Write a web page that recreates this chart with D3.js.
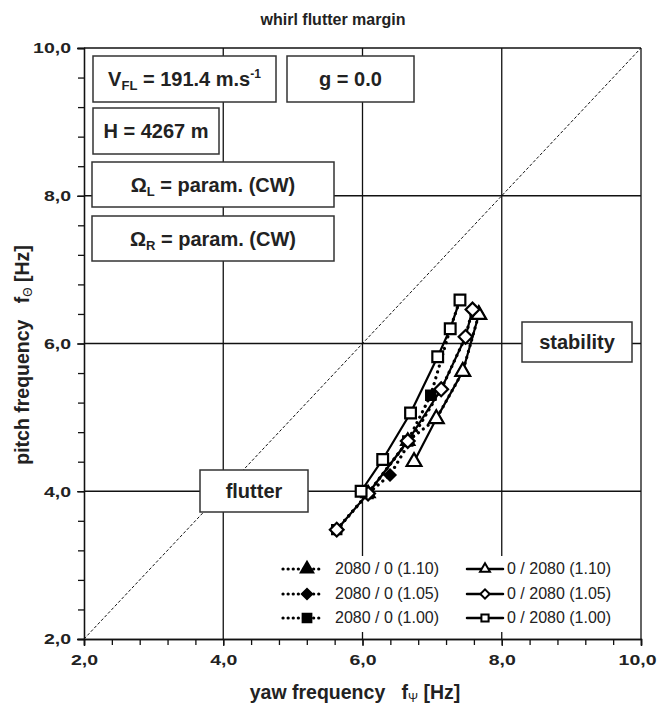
<!DOCTYPE html>
<html>
<head>
<meta charset="utf-8">
<script src="https://cdn.jsdelivr.net/npm/d3@7"></script>
<style>
  body { margin: 0; background: #fff; }
  svg text { font-family: "Liberation Sans", Arial, sans-serif; white-space: pre; }
</style>
</head>
<body>
<div id="chart"></div>
<script>
// axis ticks
const majorTicks = [2, 4, 6, 8, 10];
const minorTicks = d3.range(2, 10.001, 0.4);

// open markers, solid lines: 0 / 2080
const open110 = [[6.74, 4.40], [7.06, 4.98], [7.44, 5.62], [7.67, 6.39]];
const open105 = [[5.63, 3.48], [6.08, 3.97], [6.65, 4.68], [7.13, 5.38], [7.48, 6.09], [7.58, 6.46]];
const open100 = [[5.98, 4.00], [6.29, 4.43], [6.69, 5.06], [7.08, 5.82], [7.26, 6.20], [7.40, 6.59]];

// filled markers, dotted lines: 2080 / 0
const fill110 = [[6.08, 3.97], [6.65, 4.68], [7.06, 4.98], [7.44, 5.62], [7.67, 6.39]];
const fill105 = [[5.63, 3.48], [6.08, 3.97], [6.395, 4.22], [7.13, 5.38], [7.48, 6.09], [7.58, 6.46]];
const fill100 = [[5.63, 3.48], [6.08, 3.97], [6.65, 4.68], [6.98, 5.30], [7.26, 6.20], [7.40, 6.59]];

const legendNames = ["2080 / 0 (1.10)", "2080 / 0 (1.05)", "2080 / 0 (1.00)",
                     "0 / 2080 (1.10)", "0 / 2080 (1.05)", "0 / 2080 (1.00)"];

const W = 659, H = 711;
const svg = d3.select("#chart").append("svg")
    .attr("width", W)
    .attr("height", H);

const x = d3.scaleLinear().domain([2, 10]).range([84, 641]);
const y = d3.scaleLinear().domain([2, 10]).range([639, 48]);

const fmt = d => d3.format(".1f")(d).replace(".", ",");

// grid
const grid = svg.append("g");
grid.selectAll(".gx").data([4, 6, 8, 10]).enter().append("line")
    .attr("x1", d => x(d)).attr("x2", d => x(d))
    .attr("y1", y(2)).attr("y2", y(10))
    .attr("stroke", "#111").attr("stroke-width", 1.3);
grid.selectAll(".gy").data([4, 6, 8, 10]).enter().append("line")
    .attr("x1", x(2)).attr("x2", x(10))
    .attr("y1", d => y(d)).attr("y2", d => y(d))
    .attr("stroke", "#111").attr("stroke-width", 1.3);

// diagonal
svg.append("line")
    .attr("x1", x(2)).attr("y1", y(2))
    .attr("x2", x(10)).attr("y2", y(10))
    .attr("stroke", "#111").attr("stroke-width", 1)
    .attr("stroke-dasharray", "3,2");

// axes
const sx = 1.3;
const xAxis = svg.append("g").attr("transform", `translate(0,${y(2)})`);
xAxis.call(d3.axisBottom(x).tickValues(minorTicks).tickSize(6).tickFormat(""));
xAxis.append("g").call(d3.axisBottom(x).tickValues(majorTicks).tickSize(7).tickFormat(fmt).tickPadding(8));
xAxis.selectAll("text").attr("font-size", 15).attr("font-weight", "bold").attr("fill", "#222")
    .attr("x", d => d === 10 ? -4 / sx : 0)
    .attr("transform", `scale(${sx},1)`);
xAxis.selectAll(".tick line").attr("stroke", "#111").attr("stroke-width", 1.3);
xAxis.selectAll(".domain").attr("stroke", "#111").attr("stroke-width", 1.3);

const yAxis = svg.append("g").attr("transform", `translate(${x(2)},0)`);
yAxis.call(d3.axisLeft(y).tickValues(minorTicks).tickSize(6).tickFormat(""));
yAxis.append("g").call(d3.axisLeft(y).tickValues(majorTicks).tickSize(7).tickFormat(fmt).tickPadding(6));
yAxis.selectAll("text").attr("font-size", 15).attr("font-weight", "bold").attr("fill", "#222")
    .attr("x", -13 / sx).attr("transform", `scale(${sx},1)`);
yAxis.selectAll(".tick line").attr("stroke", "#111").attr("stroke-width", 1.3);
yAxis.selectAll(".domain").attr("stroke", "#111").attr("stroke-width", 1.3);

// text boxes
const boxes = [
    {x: 93, y: 56, w: 183, h: 46},
    {x: 287, y: 56, w: 127, h: 46},
    {x: 93, y: 108, w: 126, h: 46},
    {x: 92, y: 162, w: 242, h: 45},
    {x: 92, y: 216, w: 242, h: 45},
    {x: 200, y: 470, w: 108, h: 42},
    {x: 522, y: 322, w: 110, h: 40}
];
svg.selectAll(".box").data(boxes).enter().append("rect")
    .attr("x", d => d.x).attr("y", d => d.y)
    .attr("width", d => d.w).attr("height", d => d.h)
    .attr("fill", "#fff").attr("stroke", "#333").attr("stroke-width", 1.5);

function boxText(b, parts) {
    const t = svg.append("text")
        .attr("x", b.x + b.w / 2).attr("y", b.y + b.h / 2 + 7)
        .attr("text-anchor", "middle")
        .attr("font-size", 20).attr("font-weight", "bold").attr("fill", "#222");
    parts.forEach(p => {
        const s = t.append("tspan").text(p.t);
        if (p.sub) s.attr("font-size", 13).attr("dy", 4);
        if (p.sup) s.attr("font-size", 12).attr("dy", -8);
        if (p.dy) s.attr("dy", p.dy);
    });
}
boxText(boxes[0], [{t: "V"}, {t: "FL", sub: true}, {t: " = 191.4 m.s", dy: -4}, {t: "-1", sup: true}]);
boxText(boxes[1], [{t: "g = 0.0"}]);
boxText(boxes[2], [{t: "H = 4267 m"}]);
boxText(boxes[3], [{t: "\u03A9"}, {t: "L", sub: true}, {t: " = param. (CW)", dy: -4}]);
boxText(boxes[4], [{t: "\u03A9"}, {t: "R", sub: true}, {t: " = param. (CW)", dy: -4}]);
boxText(boxes[5], [{t: "flutter"}]);
boxText(boxes[6], [{t: "stability"}]);

// series
const line = d3.line().x(d => x(d[0])).y(d => y(d[1]));
const series = [
    {data: fill110, sym: d3.symbolTriangle, size: 75, rot: 0, fill: "#000", dash: "0.1,6"},
    {data: fill105, sym: d3.symbolSquare, size: 60, rot: 45, fill: "#000", dash: "0.1,6"},
    {data: fill100, sym: d3.symbolSquare, size: 85, rot: 0, fill: "#000", dash: "0.1,6"},
    {data: open110, sym: d3.symbolTriangle, size: 95, rot: 0, fill: "#fff", dash: null},
    {data: open105, sym: d3.symbolSquare, size: 95, rot: 45, fill: "#fff", dash: null},
    {data: open100, sym: d3.symbolSquare, size: 115, rot: 0, fill: "#fff", dash: null}
];

series.forEach(s => {
    svg.append("path")
        .datum(s.data)
        .attr("d", line)
        .attr("fill", "none")
        .attr("stroke", "#000")
        .attr("stroke-width", s.dash ? 3.2 : 2.2)
        .attr("stroke-linecap", "round")
        .attr("stroke-dasharray", s.dash);
});
series.forEach(s => {
    svg.append("g").selectAll("path")
        .data(s.data).enter().append("path")
        .attr("d", d3.symbol().type(s.sym).size(s.size))
        .attr("transform", d => `translate(${x(d[0])},${y(d[1])}) rotate(${s.rot})`)
        .attr("fill", s.fill)
        .attr("stroke", "#000")
        .attr("stroke-width", 2.2);
});

// legend
const lg = svg.append("g");
lg.append("rect").attr("x", 278).attr("y", 556).attr("width", 358).attr("height", 76).attr("fill", "#fff");
const legendPos = [
    {lx: 283, ly: 569}, {lx: 283, ly: 594}, {lx: 283, ly: 618},
    {lx: 467, ly: 569}, {lx: 467, ly: 594}, {lx: 467, ly: 618}
];
series.forEach((s, i) => {
    const p = legendPos[i];
    const dotted = !!s.dash;
    const len = dotted ? 40 : 36;
    lg.append("line")
        .attr("x1", p.lx).attr("x2", p.lx + len)
        .attr("y1", p.ly).attr("y2", p.ly)
        .attr("stroke", "#000").attr("stroke-width", dotted ? 3.2 : 2.5)
        .attr("stroke-linecap", "round")
        .attr("stroke-dasharray", dotted ? "0.1,5" : null);
    lg.append("path")
        .attr("d", d3.symbol().type(s.sym).size(dotted ? s.size * 0.9 : s.size * 0.45))
        .attr("transform", `translate(${p.lx + (dotted ? 24 : 18)},${p.ly}) rotate(${s.rot})`)
        .attr("fill", s.fill).attr("stroke", "#000").attr("stroke-width", 2);
    lg.append("text")
        .attr("x", p.lx + (dotted ? 52 : 40)).attr("y", p.ly + 5)
        .attr("font-size", 16).attr("fill", "#222")
        .text(legendNames[i]);
});

// title and axis labels
svg.append("text")
    .attr("x", 333).attr("y", 25)
    .attr("text-anchor", "middle")
    .attr("font-size", 16).attr("font-weight", "bold").attr("fill", "#222")
    .text("whirl flutter margin");

const xl = svg.append("text")
    .attr("x", 355).attr("y", 699)
    .attr("text-anchor", "middle")
    .attr("font-size", 19.5).attr("font-weight", "bold").attr("fill", "#222");
xl.append("tspan").text("yaw frequency   f");
xl.append("tspan").text("\u03A8").attr("font-size", 12).attr("font-weight", "normal").attr("dy", 3);
xl.append("tspan").text(" [Hz]").attr("dy", -3);

const yl = svg.append("text")
    .attr("transform", "translate(29,355) rotate(-90)")
    .attr("text-anchor", "middle")
    .attr("font-size", 19.5).attr("font-weight", "bold").attr("fill", "#222");
yl.append("tspan").text("pitch frequency   f");
yl.append("tspan").text("\u0398").attr("font-size", 12).attr("font-weight", "normal").attr("dy", 3);
yl.append("tspan").text(" [Hz]").attr("dy", -3);
</script>
</body>
</html>
